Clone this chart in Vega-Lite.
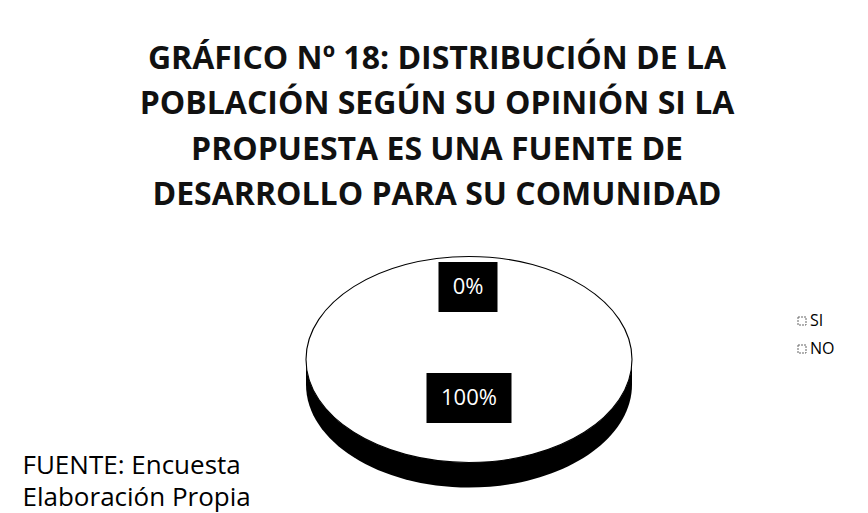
{
  "$schema": "https://vega.github.io/schema/vega-lite/v6.json",
  "width": 340,
  "height": 244,
  "autosize": {"type": "none"},
  "padding": {"left": 299, "right": 229, "top": 250, "bottom": 19},
  "background": "white",
  "config": {"view": {"stroke": null}, "font": "Open Sans"},
  "title": {
    "text": ["GRÁFICO Nº 18: DISTRIBUCIÓN DE LA", "POBLACIÓN SEGÚN SU OPINIÓN SI LA", "PROPUESTA ES UNA FUENTE DE", "DESARROLLO PARA SU COMUNIDAD"],
    "font": "Open Sans",
    "fontSize": 32,
    "fontWeight": "bold",
    "color": "#111111",
    "lineHeight": 45.5,
    "anchor": "middle",
    "dx": -32,
    "offset": 38
  },
  "data": {
    "values": [
      {"respuesta": "SI", "porcentaje": 100, "etiqueta": "100%"},
      {"respuesta": "NO", "porcentaje": 0, "etiqueta": "0%"}
    ]
  },
  "layer": [
    {
      "transform": [{"filter": "datum.respuesta === 'SI'"}],
      "mark": {"type": "point", "shape": "M -1 -0.077 L -1 0.077 C -1 0.426 -0.552 0.709 0 0.709 C 0.552 0.709 1 0.426 1 0.077 L 1 -0.077 Z", "size": 106276, "filled": true, "fill": "black", "opacity": 1, "strokeWidth": 0},
      "encoding": {
        "x": {
          "datum": "pie",
          "type": "nominal",
          "axis": {
            "title": ["FUENTE: Encuesta", "Elaboración Propia"],
            "labels": false,
            "ticks": false,
            "domain": false,
            "grid": false,
            "titleFont": "Open Sans",
            "titleFontSize": 26,
            "titleFontWeight": "normal",
            "titleColor": "black",
            "titleAlign": "left",
            "titleAnchor": "start",
            "titleX": -277,
            "titleY": -21,
            "titleBaseline": "alphabetic",
            "titleLineHeight": 32
          }
        }
      }
    },
    {
      "transform": [{"filter": "datum.respuesta === 'SI'"}],
      "mark": {"type": "point", "shape": "M -1 -0.077 C -1 -0.426 -0.552 -0.709 0 -0.709 C 0.552 -0.709 1 -0.426 1 -0.077 C 1 0.272 0.552 0.555 0 0.555 C -0.552 0.555 -1 0.272 -1 -0.077 Z", "size": 106276, "filled": true, "opacity": 1, "stroke": "black", "strokeWidth": 1.1},
      "encoding": {
        "color": {
          "field": "respuesta",
          "type": "nominal",
          "scale": {"domain": ["SI", "NO"], "range": ["white", "white"]},
          "legend": {
            "orient": "none",
            "legendX": 495,
            "legendY": 63,
            "title": null,
            "symbolType": "square",
            "symbolSize": 64,
            "symbolStrokeColor": "#666666",
            "symbolStrokeWidth": 1,
            "symbolDash": [2, 1],
            "labelFont": "Open Sans",
            "labelFontSize": 16,
            "labelColor": "black",
            "rowPadding": 12,
            "labelOffset": 0
          }
        }
      }
    },
    {
      "transform": [{"filter": "datum.respuesta === 'NO'"}],
      "mark": {"type": "point", "shape": "M -1 -0.847 L 1 -0.847 L 1 0.847 L -1 0.847 Z", "size": 3481, "filled": true, "fill": "black", "opacity": 1, "strokeWidth": 0, "yOffset": -85, "xOffset": -1},
      "encoding": {}
    },
    {
      "transform": [{"filter": "datum.respuesta === 'NO'"}],
      "mark": {"type": "text", "color": "white", "font": "Open Sans", "fontSize": 22, "yOffset": -85, "xOffset": -1},
      "encoding": {"text": {"field": "etiqueta"}}
    },
    {
      "transform": [{"filter": "datum.respuesta === 'SI'"}],
      "mark": {"type": "point", "shape": "M -1 -0.588 L 1 -0.588 L 1 0.588 L -1 0.588 Z", "size": 7225, "filled": true, "fill": "black", "opacity": 1, "strokeWidth": 0, "yOffset": 26},
      "encoding": {}
    },
    {
      "transform": [{"filter": "datum.respuesta === 'SI'"}],
      "mark": {"type": "text", "color": "white", "font": "Open Sans", "fontSize": 22, "yOffset": 26},
      "encoding": {"text": {"field": "etiqueta"}}
    }
  ]
}
